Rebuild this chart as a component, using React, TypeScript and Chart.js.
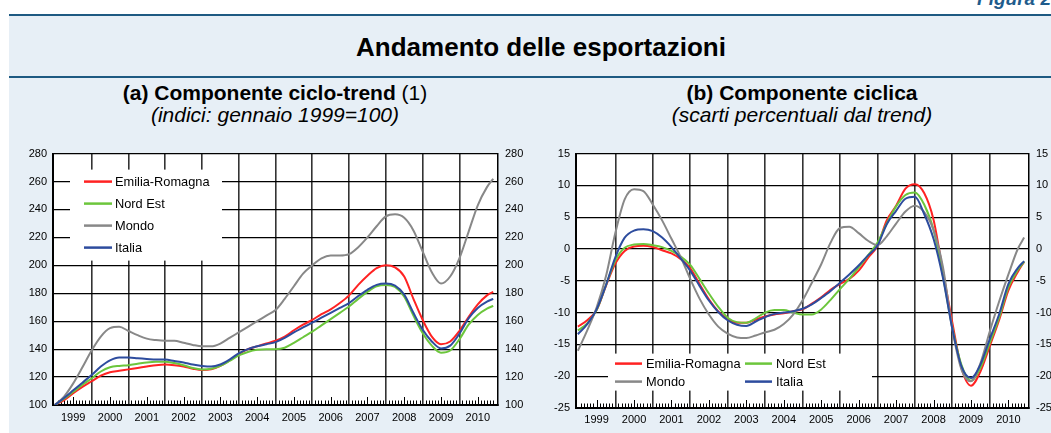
import React, { useEffect, useRef } from 'react';
import { Chart, registerables } from 'chart.js';

Chart.register(...registerables);

const FONT = '"Liberation Sans", Arial, Helvetica, sans-serif';

// quarterly observation dates (fractional years) – last point = Dec 2010
const dates = [
  1999, 1999.25, 1999.5, 1999.75,
  2000, 2000.25, 2000.5, 2000.75,
  2001, 2001.25, 2001.5, 2001.75,
  2002, 2002.25, 2002.5, 2002.75,
  2003, 2003.25, 2003.5, 2003.75,
  2004, 2004.25, 2004.5, 2004.75,
  2005, 2005.25, 2005.5, 2005.75,
  2006, 2006.25, 2006.5, 2006.75,
  2007, 2007.25, 2007.5, 2007.75,
  2008, 2008.25, 2008.5, 2008.75,
  2009, 2009.25, 2009.5, 2009.75,
  2010, 2010.25, 2010.5, 2010.75,
  2010.92,
];

const yearLabels = [1999, 2000, 2001, 2002, 2003, 2004, 2005, 2006, 2007, 2008, 2009, 2010];

const seriesNames = ['Emilia-Romagna', 'Nord Est', 'Mondo', 'Italia'];
const seriesColors = ['#FF2222', '#6CC63C', '#888888', '#2D4C9E'];
const drawOrder = [3, 2, 1, 0];

// (a) ciclo-trend, indici gennaio 1999 = 100
const trendER = [
  100, 103.5, 108.5, 113,
  117, 121, 123.5, 124.5,
  125.5, 126.5, 127.5, 128.5,
  129, 128.5, 127.5, 126,
  125, 125.5, 128, 132,
  136.5, 140, 142, 144,
  146, 149, 153.5, 157.5,
  161, 165, 168.5, 173,
  178.5, 186, 192.5, 198,
  200, 198.5, 192, 176,
  161, 149, 143.5, 145.5,
  153, 163, 172, 178.5,
  181,
];
const trendNE = [
  100, 104.5, 109.5, 114.5,
  119, 124, 127, 128,
  128.5, 129.5, 130.5, 131,
  131, 130, 128.5, 126.5,
  125.5, 126, 128, 131.5,
  135.5, 138, 139.5, 140,
  140, 141, 144.5, 148.5,
  152.5, 157, 161.5, 166,
  170.5, 176, 181, 185,
  186, 184.5, 177.5, 164,
  151.5, 142.5, 137.5, 139,
  147, 157.5, 164.5, 169,
  171,
];
const trendWorld = [
  100, 106, 115.5, 127,
  139, 149, 155, 156,
  153, 150, 147.5, 146.5,
  146, 146, 144.5, 143,
  142, 142, 144, 148,
  152, 156, 160, 164,
  168, 176, 185, 194,
  200, 205, 207, 207,
  208, 213, 220, 228,
  235, 236.5, 234, 225,
  210, 195, 187, 192,
  205, 224, 243, 256,
  262,
];
const trendIT = [
  100, 105, 110.5, 116,
  121.5, 127.5, 132, 134,
  134, 133.5, 133, 132.5,
  132.5, 131.5, 130.5, 129,
  128, 127.5, 129, 132.5,
  137, 140, 142, 143.5,
  145, 148, 152, 155.5,
  159, 162.5, 166, 169.5,
  173, 178, 182.5, 186,
  187, 185.5, 179, 166,
  154, 145.5, 140.5, 142.5,
  151, 162, 169.5, 174,
  176,
];

// (b) componente ciclica, scarti percentuali dal trend
const cycER = [
  -12.2, -11.2, -9.6, -5.8,
  -2.3, -0.3, 0.4, 0.5,
  0.3, -0.2, -0.7, -1.6,
  -3, -5.5, -7.9, -9.8,
  -11, -11.6, -11.6, -11.1,
  -10.6, -10.3, -10.1, -9.8,
  -9.5, -8.6, -7.6, -6.4,
  -5.5, -4.7, -3.4, -1.4,
  0.5, 4.5, 6.8, 9.5,
  10.2, 8.8, 4.6, -3.5,
  -11.5, -18.8, -21.5, -19.3,
  -15.3, -11.2, -6.5, -3.6,
  -2,
];
const cycNE = [
  -12.8, -11.7, -9.6, -5.7,
  -1.8, 0.2, 0.7, 0.8,
  0.6, 0.3, -0.3, -1.2,
  -2.5, -4.7, -7, -9.1,
  -10.8, -11.5, -11.6, -10.9,
  -10, -9.6, -9.6, -10,
  -10.3, -10.3, -9.5, -8,
  -6.3, -4.7, -2.9, -1,
  1, 4, 6.7, 8.5,
  8.9, 7, 3, -4.2,
  -12.3, -18.3, -20.7, -18.7,
  -14.8, -10.8, -6, -3.3,
  -2,
];
const cycWorld = [
  -16, -12.8, -9.2, -4.3,
  2.5, 7.8, 9.4, 9.1,
  7, 4.5, 1.6, -1.3,
  -4.7, -7.8, -10.3, -12.2,
  -13.3, -13.9, -14, -13.6,
  -13.1, -12.7, -11.8, -10.3,
  -8.1, -5.3, -2.4, 1,
  3.3, 3.5, 2.5, 1.3,
  0.6, 2, 4, 5.9,
  6.8, 5.8, 3, -2.8,
  -12.5, -19, -20.8, -18,
  -13, -8.3, -4, 0,
  1.8,
];
const cycIT = [
  -13.4, -11.8, -9.5, -5.7,
  -1.3, 1.8, 2.9, 3.1,
  2.8, 1.8, 0.3, -1.5,
  -3.4, -5.8, -8.1, -9.9,
  -11.2, -11.9, -12.1, -11.4,
  -10.7, -10.2, -10, -9.8,
  -9.4, -8.7, -7.7, -6.6,
  -5.3, -4, -2.6, -1,
  0.5, 3.9, 6, 7.9,
  8.2, 5.5, 1.6, -4.5,
  -12.5, -18.5, -20.3, -18.2,
  -14.2, -10.3, -5.5, -3,
  -1.9,
];

const trendTickValues = [100, 120, 140, 160, 180, 200, 220, 240, 260, 280];
const cycTickValues = [-25, -20, -15, -10, -5, 0, 5, 10, 15];

type LegendCfg = {
  box: [number, number, number, number];
  items: [number, number][];
  sample: number;
  gap: number;
  fontSize: number;
};

type Panel = {
  series: number[][];
  ticks: number[];
  yLeftW: number;
  yRightW: number;
  xH: number;
  xPad: number;
  labelOffset: number;
  legend: LegendCfg;
};

const X_MIN = 1998.95;
const X_MAX = 2011.05;

function makeDecorPlugin(cfg: LegendCfg) {
  return {
    id: 'decor',
    beforeDatasetsDraw(chart: any) {
      const a = chart.chartArea;
      const ctx = chart.ctx as CanvasRenderingContext2D;
      const xs = chart.scales.x;
      ctx.save();
      // monthly minor ticks, inward from the bottom axis
      ctx.strokeStyle = '#000';
      ctx.lineWidth = 1;
      for (const y of yearLabels) {
        for (let m = 1; m < 12; m++) {
          const px = Math.round(xs.getPixelForValue(y + m / 12)) + 0.5;
          const len = m === 6 ? 8 : 4.5;
          ctx.beginPath();
          ctx.moveTo(px, a.bottom);
          ctx.lineTo(px, a.bottom - len);
          ctx.stroke();
        }
      }
      // legend box
      ctx.fillStyle = '#ffffff';
      ctx.fillRect(a.left + cfg.box[0], a.top + cfg.box[1], cfg.box[2], cfg.box[3]);
      ctx.font = `${cfg.fontSize}px ${FONT}`;
      ctx.textBaseline = 'middle';
      ctx.textAlign = 'left';
      chart.data.datasets.forEach((ds: any, i: number) => {
        const [ix, iy] = cfg.items[i];
        const x0 = a.left + ix;
        const y0 = a.top + iy;
        ctx.strokeStyle = ds.borderColor;
        ctx.lineWidth = 2.5;
        ctx.beginPath();
        ctx.moveTo(x0, y0);
        ctx.lineTo(x0 + cfg.sample, y0);
        ctx.stroke();
        ctx.fillStyle = '#000';
        ctx.fillText(ds.label, x0 + cfg.sample + cfg.gap, y0 + 0.5);
      });
      ctx.restore();
    },
  };
}

function buildChart(canvas: HTMLCanvasElement, p: Panel) {
  const datasets = p.series.map((s, i) => ({
    label: seriesNames[i],
    data: dates.map((d, j) => ({ x: d, y: s[j] })),
    borderColor: seriesColors[i],
    backgroundColor: seriesColors[i],
    borderWidth: 2,
    pointRadius: 0,
    cubicInterpolationMode: 'monotone' as const,
    fill: false,
    order: drawOrder[i],
  }));
  const tickFont = { family: FONT, size: 11 };
  const yMin = p.ticks[0];
  const yMax = p.ticks[p.ticks.length - 1];
  return new Chart(canvas, {
    type: 'line',
    data: { datasets },
    plugins: [makeDecorPlugin(p.legend)],
    options: {
      animation: false,
      responsive: false,
      devicePixelRatio: 1,
      layout: { padding: { top: 13, left: 0, right: 0, bottom: 0 } },
      plugins: { legend: { display: false }, tooltip: { enabled: false }, title: { display: false } },
      scales: {
        x: {
          type: 'linear',
          position: 'bottom',
          min: X_MIN,
          max: X_MAX,
          afterBuildTicks: (s: any) => {
            s.ticks = yearLabels.map((v) => ({ value: v }));
          },
          afterFit: (s: any) => {
            s.height = p.xH;
          },
          ticks: {
            autoSkip: false,
            maxRotation: 0,
            minRotation: 0,
            padding: p.xPad,
            labelOffset: p.labelOffset,
            color: '#000',
            font: tickFont,
            callback: (v: any) => String(v),
          },
          grid: {
            drawTicks: false,
            color: (c: any) => (c.tick && c.tick.value === yearLabels[0] ? 'rgba(0,0,0,0)' : '#333333'),
            lineWidth: 1.6,
          },
          border: { display: true, color: '#000', width: 2 },
        },
        y: {
          position: 'left',
          min: yMin,
          max: yMax,
          afterBuildTicks: (s: any) => {
            s.ticks = p.ticks.map((v) => ({ value: v }));
          },
          afterFit: (s: any) => {
            s.width = p.yLeftW;
          },
          ticks: { padding: 6, color: '#000', font: tickFont },
          grid: { drawTicks: false, color: '#000', lineWidth: 1.2 },
          border: { display: true, color: '#000', width: 2 },
        },
        y2: {
          position: 'right',
          min: yMin,
          max: yMax,
          afterBuildTicks: (s: any) => {
            s.ticks = p.ticks.map((v) => ({ value: v }));
          },
          afterFit: (s: any) => {
            s.width = p.yRightW;
          },
          ticks: { padding: 7, color: '#000', font: tickFont },
          grid: { drawOnChartArea: false, drawTicks: false },
          border: { display: true, color: '#000', width: 1.5 },
        },
      },
    },
  } as any);
}

function ChartCanvas(props: { panel: Panel; left: number; top: number; width: number; height: number }) {
  const ref = useRef<HTMLCanvasElement>(null);
  useEffect(() => {
    const chart = buildChart(ref.current as HTMLCanvasElement, props.panel);
    return () => chart.destroy();
  }, []);
  return (
    <canvas
      ref={ref}
      width={props.width}
      height={props.height}
      style={{ position: 'absolute', left: props.left, top: props.top, width: props.width, height: props.height }}
    />
  );
}

const trendPanel: Panel = {
  series: [trendER, trendNE, trendWorld, trendIT],
  ticks: trendTickValues,
  yLeftW: 53,
  yRightW: 47,
  xH: 28,
  xPad: 6,
  labelOffset: 18.4,
  legend: {
    box: [17, 16, 152, 91],
    items: [
      [31, 28],
      [31, 50],
      [31, 72],
      [31, 94],
    ],
    sample: 28,
    gap: 3,
    fontSize: 12.8,
  },
};

const cycPanel: Panel = {
  series: [cycER, cycNE, cycWorld, cycIT],
  ticks: cycTickValues,
  yLeftW: 36,
  yRightW: 22,
  xH: 25,
  xPad: 5,
  labelOffset: 18.7,
  legend: {
    box: [32, 200, 264, 37],
    items: [
      [39, 210],
      [169, 210],
      [39, 228],
      [169, 228],
    ],
    sample: 27,
    gap: 4,
    fontSize: 12.8,
  },
};

const BAND = '#E7EFF6';
const DARK = '#1E5A82';

export default function App() {
  return (
    <div
      style={{
        position: 'absolute',
        left: 0,
        top: 0,
        width: 1051,
        height: 433,
        overflow: 'hidden',
        background: '#ffffff',
        fontFamily: FONT,
        color: '#000',
      }}
    >
      <div
        style={{
          position: 'absolute',
          right: 0,
          top: -11,
          fontSize: 19,
          lineHeight: '19px',
          fontWeight: 'bold',
          fontStyle: 'italic',
          color: '#1F5C8C',
          whiteSpace: 'nowrap',
        }}
      >
        Figura 2
      </div>
      <div style={{ position: 'absolute', left: 9, top: 14, width: 1042, height: 2, background: DARK }} />
      <div style={{ position: 'absolute', left: 9, top: 16, width: 1042, height: 60, background: BAND }} />
      <div
        style={{
          position: 'absolute',
          left: 0,
          width: 1082,
          top: 31,
          lineHeight: '32px',
          fontSize: 26,
          fontWeight: 'bold',
          textAlign: 'center',
          whiteSpace: 'nowrap',
        }}
      >
        Andamento delle esportazioni
      </div>
      <div style={{ position: 'absolute', left: 9, top: 76, width: 1042, height: 2, background: DARK }} />
      <div style={{ position: 'absolute', left: 9, top: 78, width: 1042, height: 355, background: BAND }} />

      <div
        style={{
          position: 'absolute',
          left: 75,
          width: 400,
          top: 82,
          lineHeight: '22px',
          fontSize: 21,
          textAlign: 'center',
          whiteSpace: 'nowrap',
        }}
      >
        <div>
          <b>(a) Componente ciclo-trend</b> (1)
        </div>
        <div style={{ fontStyle: 'italic' }}>(indici: gennaio 1999=100)</div>
      </div>
      <div
        style={{
          position: 'absolute',
          left: 602,
          width: 400,
          top: 82,
          lineHeight: '22px',
          fontSize: 21,
          textAlign: 'center',
          whiteSpace: 'nowrap',
        }}
      >
        <div>
          <b>(b) Componente ciclica</b>
        </div>
        <div style={{ fontStyle: 'italic' }}>(scarti percentuali dal trend)</div>
      </div>

      <div style={{ position: 'absolute', left: 53, top: 153, width: 445, height: 252, background: '#fff' }} />
      <div style={{ position: 'absolute', left: 576, top: 153, width: 453, height: 255, background: '#fff' }} />

      <ChartCanvas panel={trendPanel} left={0} top={140} width={545} height={293} />
      <ChartCanvas panel={cycPanel} left={540} top={140} width={511} height={293} />
    </div>
  );
}
